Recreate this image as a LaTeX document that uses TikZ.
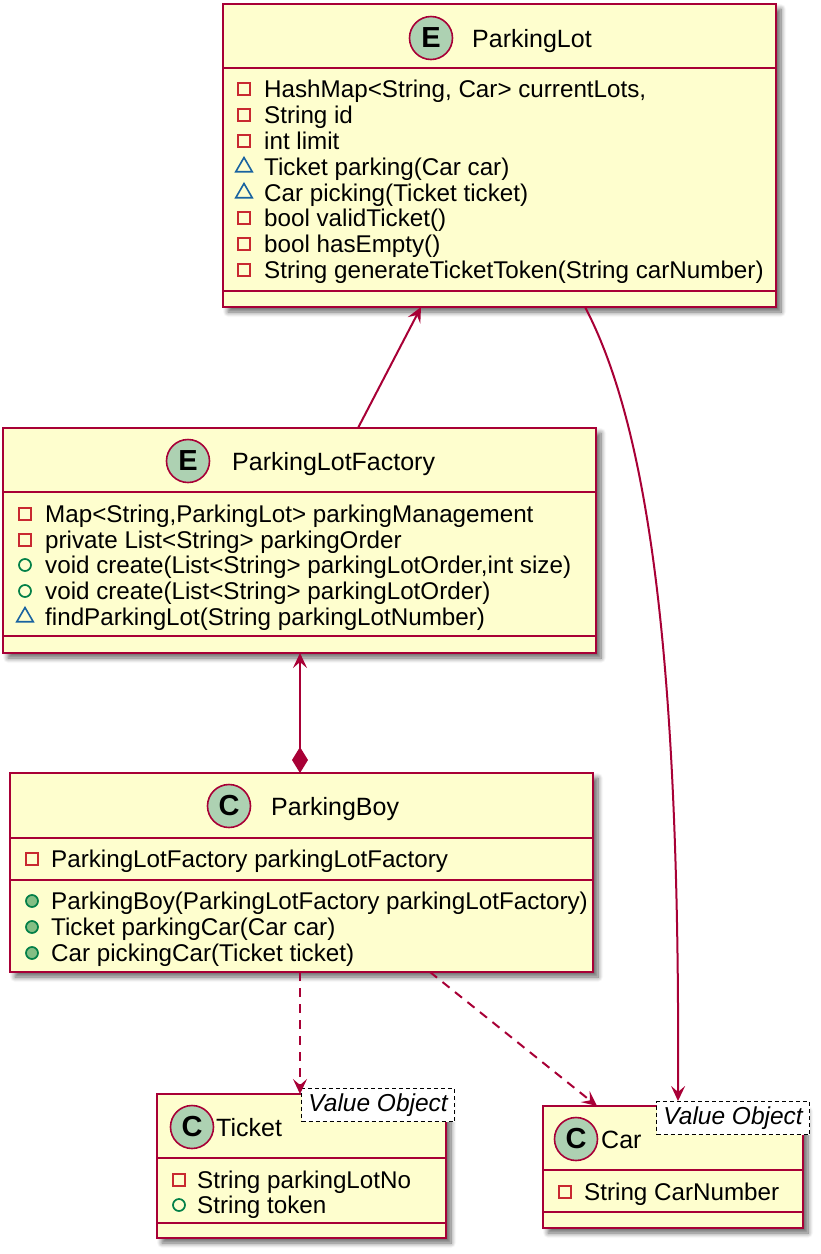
\documentclass[tikz,border=0pt]{standalone}
\usepackage{fontspec}
\setmainfont{Liberation Sans}
\usetikzlibrary{arrows.meta,shapes.geometric,shadows.blur}
\definecolor{crim}{HTML}{A80036}
\definecolor{cream}{HTML}{FEFECE}
\definecolor{circfill}{HTML}{ADD1B2}
\definecolor{privc}{HTML}{C82930}
\definecolor{protc}{HTML}{1963A0}
\definecolor{pubc}{HTML}{038048}
\definecolor{pubfill}{HTML}{84BE84}
\newcommand\umlrow[6]{%
  \node[#2] (#1-i) at (#3,#4) {};
  \node[rowtext] (#1-t) at (#5,#4+8) {#6};}
\tikzset{
  cls/.style={draw=crim, fill=cream, line width=2.6pt, inner sep=0pt, outer sep=0pt,
    anchor=north west,
    blur shadow={shadow xshift=5pt, shadow yshift=-5pt, shadow blur steps=8, shadow blur radius=5pt, shadow opacity=60}},
  sepline/.style={draw=crim, line width=2.6pt},
  rowtext/.style={anchor=base west, inner sep=0pt, font=\fontsize{24.2}{28}\selectfont},
  titletext/.style={anchor=base west, inner sep=0pt, font=\fontsize{25}{28}\selectfont},
  circ/.style={circle, minimum size=43pt, inner sep=0pt, fill=circfill, draw=crim, line width=1.6pt,
    font=\fontsize{29}{30}\selectfont\bfseries},
  priv/.style={rectangle, minimum size=12pt, inner sep=0pt, draw=privc, line width=1.7pt},
  pkg/.style={regular polygon, regular polygon sides=3, minimum size=19pt, inner sep=0pt, draw=protc, line width=1.6pt},
  pubo/.style={circle, minimum size=12pt, inner sep=0pt, draw=pubc, line width=1.7pt},
  pubf/.style={circle, minimum size=12pt, inner sep=0pt, draw=pubc, fill=pubfill, line width=1.7pt},
  stereo/.style={draw=black, dashed, dash pattern=on 4pt off 3pt, line width=1.3pt, fill=white, inner sep=1pt, anchor=north west,
    minimum width=153pt, minimum height=33pt, font=\fontsize{24.5}{26}\selectfont\itshape},
  conn/.style={draw=crim, line width=2pt},
  tip/.style={-{Stealth[length=15pt,width=14pt,inset=6pt]}},
  dep/.style={conn, tip, dash pattern=on 9pt off 7pt},
}
\begin{document}
\begin{tikzpicture}[x=1pt,y=-1pt]
\useasboundingbox (0,0) rectangle (820,1254);

% ---------- ParkingLot ----------
\node[cls, minimum width=553pt, minimum height=303pt] (pl) at (223,4) {};
\draw[sepline] (pl.west |- 0,68) -- (pl.east |- 0,68);
\draw[sepline] (pl.west |- 0,291) -- (pl.east |- 0,291);
\node[circ] (pl-c) at (431,38) {E};
\node[titletext] (pl-title) at (472,47) {ParkingLot};
\umlrow{pl1}{priv}{244}{89}{264}{HashMap<String, Car> currentLots,}
\umlrow{pl2}{priv}{244}{115}{264}{String id}
\umlrow{pl3}{priv}{244}{141}{264}{int limit}
\umlrow{pl4}{pkg}{244}{167}{264}{Ticket parking(Car car)}
\umlrow{pl5}{pkg}{244}{193}{264}{Car picking(Ticket ticket)}
\umlrow{pl6}{priv}{244}{218}{264}{bool validTicket()}
\umlrow{pl7}{priv}{244}{244}{264}{bool hasEmpty()}
\umlrow{pl8}{priv}{244}{270}{264}{String generateTicketToken(String carNumber)}

% ---------- ParkingLotFactory ----------
\node[cls, minimum width=593pt, minimum height=225pt] (plf) at (3,428) {};
\draw[sepline] (plf.west |- 0,492) -- (plf.east |- 0,492);
\draw[sepline] (plf.west |- 0,636) -- (plf.east |- 0,636);
\node[circ] (plf-c) at (188,461) {E};
\node[titletext] (plf-title) at (232,470) {ParkingLotFactory};
\umlrow{f1}{priv}{25}{514}{45}{Map<String,ParkingLot> parkingManagement}
\umlrow{f2}{priv}{25}{540}{45}{private List<String> parkingOrder}
\umlrow{f3}{pubo}{25}{565}{45}{void create(List<String> parkingLotOrder,int size)}
\umlrow{f4}{pubo}{25}{591}{45}{void create(List<String> parkingLotOrder)}
\umlrow{f5}{pkg}{25}{617}{45}{findParkingLot(String parkingLotNumber)}

% ---------- ParkingBoy ----------
\node[cls, minimum width=583pt, minimum height=199pt] (pb) at (10,773) {};
\draw[sepline] (pb.west |- 0,838) -- (pb.east |- 0,838);
\draw[sepline] (pb.west |- 0,880) -- (pb.east |- 0,880);
\node[circ] (pb-c) at (229,806) {C};
\node[titletext] (pb-title) at (271,815) {ParkingBoy};
\umlrow{b1}{priv}{32}{859}{51}{ParkingLotFactory parkingLotFactory}
\umlrow{b2}{pubf}{32}{901}{51}{ParkingBoy(ParkingLotFactory parkingLotFactory)}
\umlrow{b3}{pubf}{32}{927}{51}{Ticket parkingCar(Car car)}
\umlrow{b4}{pubf}{32}{953}{51}{Car pickingCar(Ticket ticket)}

% ---------- Ticket ----------
\node[cls, minimum width=289pt, minimum height=144pt] (tk) at (157,1094) {};
\draw[sepline] (tk.west |- 0,1158) -- (tk.east |- 0,1158);
\draw[sepline] (tk.west |- 0,1223) -- (tk.east |- 0,1223);
\node[circ] (tk-c) at (192,1127) {C};
\node[titletext] (tk-title) at (216,1136) {Ticket};
\node[stereo] (tk-st) at (301,1088) {Value Object};
\umlrow{t1}{priv}{179}{1180}{197}{String parkingLotNo}
\umlrow{t2}{pubo}{179}{1205}{197}{String token}

% ---------- Car ----------
\node[cls, minimum width=260pt, minimum height=122pt] (car) at (543,1106) {};
\draw[sepline] (car.west |- 0,1170) -- (car.east |- 0,1170);
\draw[sepline] (car.west |- 0,1212) -- (car.east |- 0,1212);
\node[circ] (car-c) at (576,1139) {C};
\node[titletext] (car-title) at (601,1148) {Car};
\node[stereo] (car-st) at (656,1101) {Value Object};
\umlrow{c1}{priv}{565}{1192}{584}{String CarNumber}

% ---------- connectors ----------
\draw[conn, tip] (plf.north -| 358,0) -- (pl.south -| 421,0);
\draw[conn, tip] (pl.south -| 585,0) .. controls (655,440) and (680,700) .. (car-st.north -| 678,0);
\draw[conn, {Diamond[length=26pt,width=16pt]}-{Stealth[length=15pt,width=14pt,inset=6pt]}]
  (pb.north -| 300,0) -- (plf.south -| 300,0);
\draw[dep] (pb.south -| 300,0) -- (tk.north -| 300,0);
\draw[dep] (pb.south -| 430,0) -- (car.north -| 597,0);
\end{tikzpicture}
\end{document}
